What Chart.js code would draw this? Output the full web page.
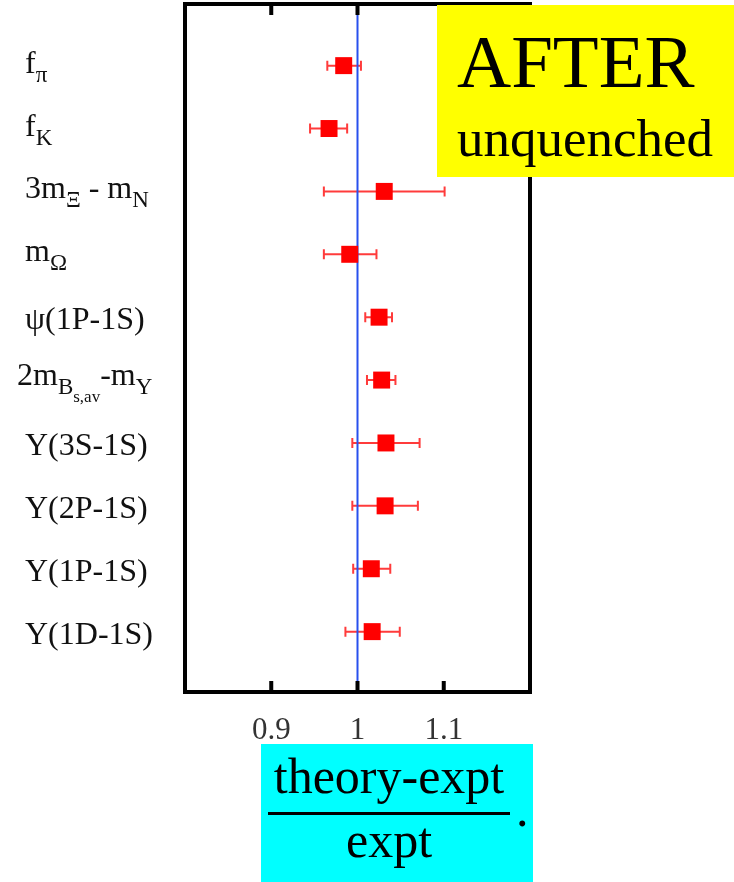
<!DOCTYPE html>
<html><head><meta charset="utf-8">
<script src="https://cdn.jsdelivr.net/npm/chart.js@4/dist/chart.umd.min.js"></script>
<style>html,body{margin:0;padding:0;background:#fff;overflow:hidden}#wrap{width:734px;height:882px;position:relative}</style>
</head><body><div id="wrap"><canvas id="c" width="734" height="882"></canvas></div>
<script>
// ---- data ----
const categories = ['fπ','fK','3mΞ - mN','mΩ','ψ(1P-1S)','2mBs,av-mΥ','Υ(3S-1S)','Υ(2P-1S)','Υ(1P-1S)','Υ(1D-1S)'];
// label pieces: [text, subscript level]
const labelParts = [
  [['f',0],['π',1]],
  [['f',0],['K',1]],
  [['3m',0],['Ξ',1],[' - m',0],['N',1]],
  [['m',0],['Ω',1]],
  [['ψ(1P-1S)',0]],
  [['2m',0],['B',1],['s,av',2],['-m',0],['Υ',1]],
  [['Υ(3S-1S)',0]],
  [['Υ(2P-1S)',0]],
  [['Υ(1P-1S)',0]],
  [['Υ(1D-1S)',0]]
];
const rows = [1,2,3,4,5,6,7,8,9,10];
const values   = [0.984, 0.967, 1.031, 0.991, 1.025, 1.028, 1.033, 1.032, 1.016, 1.017];
const errMinus = [0.019, 0.022, 0.070, 0.030, 0.016, 0.017, 0.039, 0.038, 0.021, 0.031];
const errPlus  = [0.020, 0.021, 0.070, 0.031, 0.015, 0.016, 0.039, 0.038, 0.022, 0.032];
const xTicks = [0.9, 1, 1.1];
const refValue = 1;
const titleMain = 'AFTER';
const titleSub = 'unquenched';
const axisNumerator = 'theory-expt';
const axisDenominator = 'expt';

const yMin = 0.02, yMax = 10.96;
const SERIF = '"Liberation Serif", "Times New Roman", serif';

const errorBars = {
  id:'errorBars',
  beforeDatasetsDraw(chart){
    const {ctx, scales:{x,y}} = chart;
    ctx.save();
    ctx.strokeStyle = '#ff3b3b';
    ctx.lineWidth = 2;
    values.forEach((v,i)=>{
      const py = y.getPixelForValue(rows[i]);
      const x0 = x.getPixelForValue(v - errMinus[i]);
      const x1 = x.getPixelForValue(v + errPlus[i]);
      ctx.beginPath();
      ctx.moveTo(x0,py); ctx.lineTo(x1,py);
      ctx.moveTo(x0,py-5); ctx.lineTo(x0,py+5);
      ctx.moveTo(x1,py-5); ctx.lineTo(x1,py+5);
      ctx.stroke();
    });
    ctx.restore();
  }
};

const decor = {
  id:'decor',
  afterDraw(chart){
    const {ctx, chartArea:a, scales:{x,y}} = chart;
    ctx.save();
    // frame
    ctx.strokeStyle = '#000';
    ctx.lineWidth = 4;
    ctx.strokeRect(a.left, a.top, a.right-a.left, a.bottom-a.top);
    // inward ticks top & bottom
    xTicks.forEach(t=>{
      const px = x.getPixelForValue(t);
      ctx.beginPath();
      ctx.moveTo(px, a.top); ctx.lineTo(px, a.top+11);
      ctx.moveTo(px, a.bottom); ctx.lineTo(px, a.bottom-11);
      ctx.stroke();
    });
    // left labels
    ctx.fillStyle = '#111';
    ctx.textBaseline = 'alphabetic';
    ctx.textAlign = 'left';
    const sizes = [32, 23, 17];
    const drops = [0, 9, 17];
    labelParts.forEach((parts,i)=>{
      const py = y.getPixelForValue(rows[i]);
      const maxLevel = Math.max(...parts.map(p=>p[1]));
      const base = py + (maxLevel===2 ? 5 : maxLevel===1 ? 7 : 12);
      let cx = maxLevel===2 ? 17 : 25;
      parts.forEach(([txt,lvl])=>{
        ctx.font = sizes[lvl] + 'px ' + SERIF;
        ctx.fillText(txt, cx, base + drops[lvl]);
        cx += ctx.measureText(txt).width;
      });
    });
    // yellow box
    ctx.fillStyle = '#ffff00';
    ctx.fillRect(437, 5, 734-437, 172);
    ctx.fillStyle = '#000';
    ctx.font = '75px ' + SERIF;
    ctx.fillText(titleMain, 457, 87);
    ctx.font = '53px ' + SERIF;
    ctx.fillText(titleSub, 457, 156);
    // cyan box
    ctx.fillStyle = '#00ffff';
    ctx.fillRect(261, 744, 533-261, 882-744);
    ctx.fillStyle = '#000';
    ctx.textAlign = 'center';
    ctx.font = '50px ' + SERIF;
    ctx.fillText(axisNumerator, 389, 793);
    ctx.fillText(axisDenominator, 389, 857);
    ctx.fillRect(268, 812, 510-268, 3);
    ctx.textAlign = 'left';
    ctx.fillText('.', 516, 826);
    ctx.restore();
  }
};

new Chart(document.getElementById('c').getContext('2d'), {
  type:'scatter',
  data:{datasets:[
    {label:'theory/expt', data: values.map((v,i)=>({x:v, y:rows[i]})), pointStyle:'rect', pointRadius:12, pointHoverRadius:12,
     backgroundColor:'#ff0000', borderWidth:0, order:0},
    {label:'unity', type:'line', data:[{x:refValue,y:yMin},{x:refValue,y:yMax}], borderColor:'#2850ee', borderWidth:2,
     pointRadius:0, fill:false, order:2}
  ]},
  options:{
    responsive:false, animation:false,
    layout:{autoPadding:false, padding:{left:185, right:204, top:4, bottom:0}},
    plugins:{legend:{display:false}, tooltip:{enabled:false}},
    scales:{
      x:{type:'linear', min:0.8, max:1.2,
         afterBuildTicks:s=>{ s.ticks = xTicks.map(v=>({value:v})); },
         grid:{display:false, drawTicks:false}, border:{display:false},
         ticks:{font:{family:'Liberation Serif', size:31}, color:'#333', padding:20, maxRotation:0, callback:v=>String(v)},
         afterFit:s=>{ s.height = 190; }},
      y:{type:'linear', reverse:true, min:yMin, max:yMax, display:false}
    }
  },
  plugins:[errorBars, decor]
});
</script></body></html>
